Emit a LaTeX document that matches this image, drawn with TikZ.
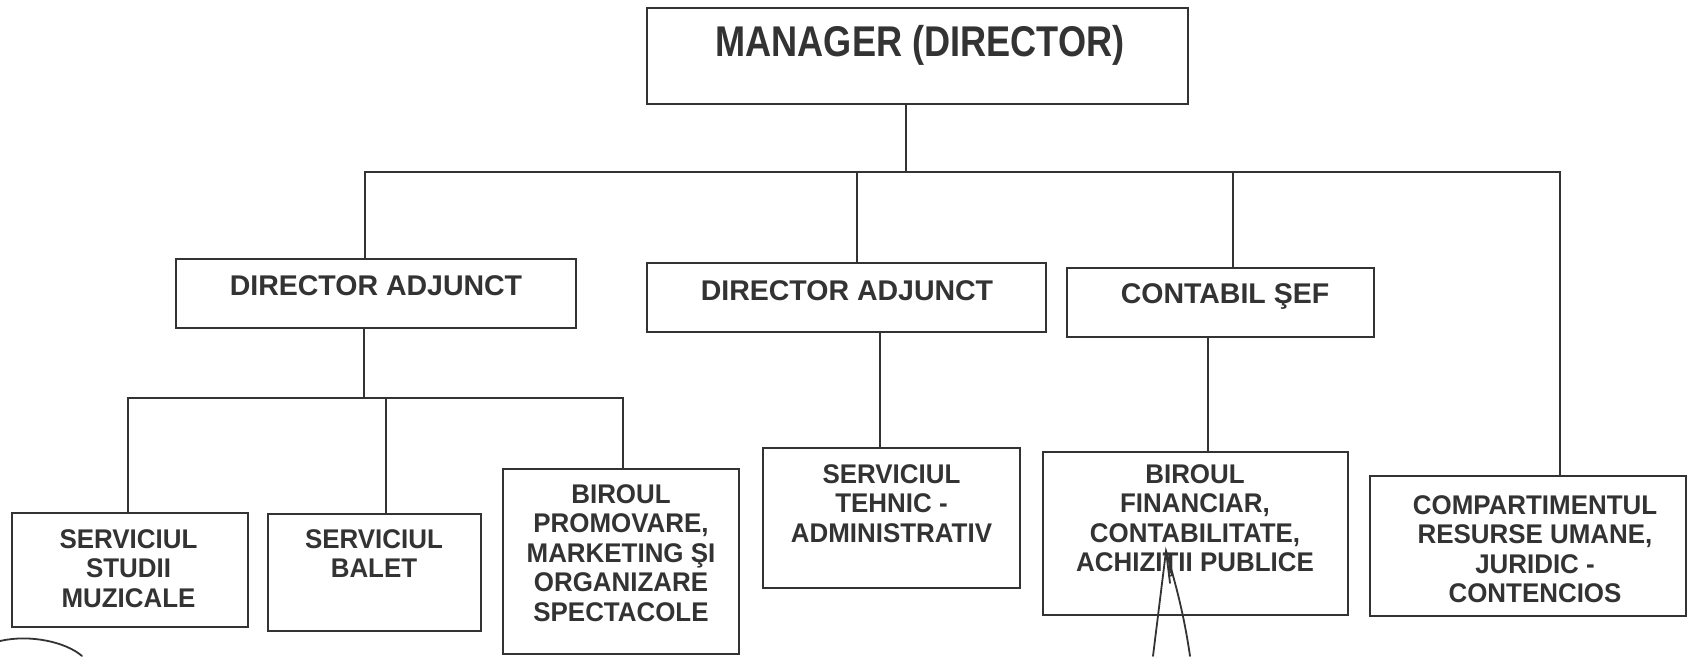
\documentclass[tikz,border=0pt]{standalone}
\usepackage{fontspec}
\setmainfont{Liberation Sans}
\newfontfamily\mgrfont[FakeStretch=0.84]{Liberation Sans}
\newfontfamily\lvfont[FakeStretch=0.96]{Liberation Sans}
\definecolor{ink}{HTML}{333333}
\begin{document}
\begin{tikzpicture}[x=1pt,y=-1pt,
  box/.style={draw=ink, line width=2.4pt, inner sep=0pt, outer sep=0pt, rectangle},
  conn/.style={draw=ink, line width=2.1pt},
  penmark/.style={draw=ink, line width=1.8pt, line cap=round},
  tmgr/.style={text=ink, inner sep=0pt, anchor=north, font=\mgrfont\bfseries\fontsize{43}{50}\selectfont},
  ttwo/.style={text=ink, inner sep=0pt, anchor=north, font=\bfseries\fontsize{28.5}{33}\selectfont},
  tthree/.style={text=ink, inner sep=0pt, anchor=north, align=center, font=\lvfont\bfseries\fontsize{27}{29.5}\selectfont}]
\useasboundingbox[fill=white] (0,0) rectangle (1688,656);

% boxes
\node[box, minimum width=541pt, minimum height=96pt] (mgr) at (917.5,56) {};
\node[box, minimum width=400pt, minimum height=69pt] (da1) at (376,293.5) {};
\node[box, minimum width=399pt, minimum height=69pt] (da2) at (846.5,297.5) {};
\node[box, minimum width=307pt, minimum height=69pt] (cs) at (1220.5,302.5) {};
\node[box, minimum width=236pt, minimum height=114pt] (ssm) at (130,570) {};
\node[box, minimum width=213pt, minimum height=117pt] (sb) at (374.5,572.5) {};
\node[box, minimum width=236pt, minimum height=185pt] (bp) at (621,561.5) {};
\node[box, minimum width=257pt, minimum height=140pt] (sta) at (891.5,518) {};
\node[box, minimum width=305pt, minimum height=163pt] (bf) at (1195.5,533.5) {};
\node[box, minimum width=316pt, minimum height=140pt] (cr) at (1528,546) {};

% texts
\node[tmgr] (tmgr) at (920,25) {MANAGER (DIRECTOR)};
\node[ttwo] (tda1) at (376,275) {DIRECTOR ADJUNCT};
\node[ttwo] (tda2) at (847,280) {DIRECTOR ADJUNCT};
\node[ttwo] (tcs) at (1225,283) {CONTABIL ŞEF};
\node[tthree] (tssm) at (128.5,529) {SERVICIUL\\STUDII\\MUZICALE};
\node[tthree] (tsb) at (374,529) {SERVICIUL\\BALET};
\node[tthree] (tbp) at (621,484) {BIROUL\\PROMOVARE,\\MARKETING ŞI\\ORGANIZARE\\SPECTACOLE};
\node[tthree] (tsta) at (891.5,464) {SERVICIUL\\TEHNIC -\\ADMINISTRATIV};
\node[tthree] (tbf) at (1195,464) {BIROUL\\FINANCIAR,\\CONTABILITATE,\\ACHIZIŢII PUBLICE};
\node[tthree] (tcr) at (1535,495) {COMPARTIMENTUL\\RESURSE UMANE,\\JURIDIC -\\CONTENCIOS};

% top bus
\coordinate (bm) at (906,172);
\coordinate (b1) at (365,172);
\coordinate (b2) at (857,172);
\coordinate (b3) at (1233,172);
\coordinate (b4) at (1560,172);
\draw[conn] (bm |- mgr.south) -- (bm);
\draw[conn] (b1 |- da1.north) -- (b1) -- (b4) -- (b4 |- cr.north);
\draw[conn] (b2) -- (b2 |- da2.north);
\draw[conn] (b3) -- (b3 |- cs.north);

% sub-bus under first deputy director
\coordinate (s0) at (364,398);
\coordinate (s1) at (128,398);
\coordinate (s2) at (386,398);
\coordinate (s3) at (623,398);
\draw[conn] (s0 |- da1.south) -- (s0);
\draw[conn] (s1 |- ssm.north) -- (s1) -- (s3) -- (s3 |- bp.north);
\draw[conn] (s2) -- (s2 |- sb.north);

% single links
\coordinate (d2) at (880,0);
\draw[conn] (d2 |- da2.south) -- (d2 |- sta.north);
\coordinate (c2) at (1208,0);
\draw[conn] (c2 |- cs.south) -- (c2 |- bf.north);

% hand-drawn pen marks
\draw[penmark] (1153,656) -- (1166,551) .. controls (1176,585) and (1184,615) .. (1190,656);
\draw[penmark] (1166,551) -- (1170,583);
\draw[penmark] (0,641) .. controls (30,634) and (66,642) .. (82,656);
\end{tikzpicture}
\end{document}
